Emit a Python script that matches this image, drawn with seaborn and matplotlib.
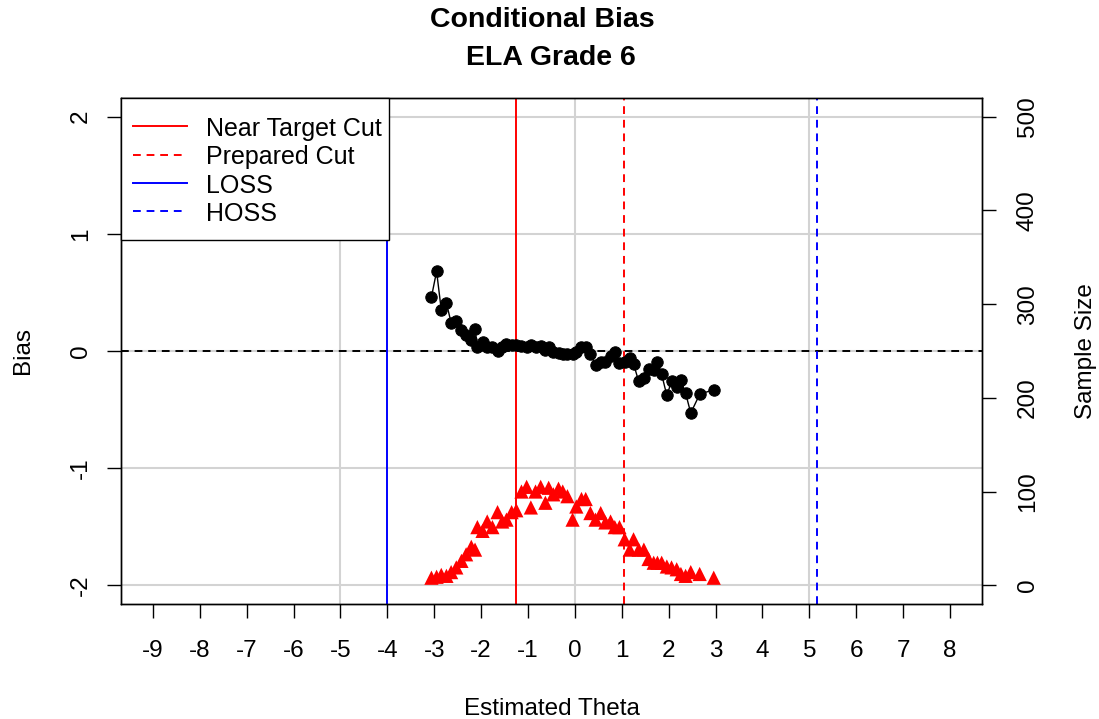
import numpy as np
import pandas as pd
import matplotlib
matplotlib.use("Agg")
import matplotlib.pyplot as plt
import seaborn as sns
from matplotlib.lines import Line2D
from matplotlib.patches import Rectangle

theta = [-3.06, -2.95, -2.85, -2.74, -2.64, -2.53, -2.42, -2.32, -2.21, -2.13,
         -2.08, -1.97, -1.87, -1.76, -1.65, -1.55, -1.46, -1.35, -1.25, -1.14,
         -1.03, -0.94, -0.84, -0.73, -0.63, -0.56, -0.46, -0.35, -0.26, -0.16,
         -0.05, 0.03, 0.14, 0.23, 0.33, 0.44, 0.55, 0.65, 0.76, 0.85,
         0.95, 1.06, 1.17, 1.25, 1.36, 1.47, 1.57, 1.68, 1.76, 1.85,
         1.96, 2.06, 2.17, 2.26, 2.36, 2.47, 2.66, 2.96]
bias = [0.46, 0.68, 0.35, 0.41, 0.24, 0.26, 0.18, 0.14, 0.09, 0.19,
        0.03, 0.08, 0.03, 0.03, 0.00, 0.03, 0.06, 0.05, 0.05, 0.04,
        0.03, 0.05, 0.03, 0.04, 0.01, 0.03, -0.01, -0.02, -0.03, -0.03,
        -0.03, -0.01, 0.03, 0.03, -0.03, -0.12, -0.09, -0.09, -0.04, -0.01,
        -0.10, -0.09, -0.06, -0.11, -0.26, -0.23, -0.15, -0.16, -0.09, -0.20,
        -0.38, -0.26, -0.31, -0.25, -0.36, -0.53, -0.37, -0.33]
sample_size = [8, 9, 11, 10, 14, 19, 26, 33, 41, 38,
               62, 58, 68, 62, 78, 68, 70, 78, 80, 100,
               105, 83, 100, 105, 88, 104, 97, 103, 100, 95,
               70, 84, 92, 92, 77, 70, 77, 67, 68, 62,
               62, 49, 38, 49, 38, 38, 28, 24, 24, 24,
               20, 19, 17, 12, 10, 14, 12, 8]

near_target_cut = -1.247
prepared_cut = 1.055
loss = -4.0
hoss = 5.157

x_ticks = list(range(-9, 9))
bias_ticks = [-2, -1, 0, 1, 2]
n_ticks = [0, 100, 200, 300, 400, 500]
grid_x = [-5, 0, 5]

df = pd.DataFrame({"theta": theta, "bias": bias, "n": sample_size})

plt.rcParams['font.family'] = ['Liberation Sans', 'DejaVu Sans']
FS = 17.5

fig = plt.figure(figsize=(10.99, 7.19), dpi=100)
ax = fig.add_axes([0.1101, 0.160, 0.7834, 0.7037])
ax.set_xlim(-9.68, 8.68)
ax.set_ylim(-2.16, 2.16)

for gx in grid_x:
    ax.axvline(gx, color="lightgray", lw=1.5, zorder=0)
for gy in bias_ticks:
    ax.axhline(gy, color="lightgray", lw=1.5, zorder=0)

ax.axhline(0, color="black", lw=1.4, ls=(0, (4, 3)), zorder=1)
ax.axvline(near_target_cut, color="red", lw=1.4, zorder=1)
ax.axvline(prepared_cut, color="red", lw=1.4, ls=(0, (4, 3)), zorder=1)
ax.axvline(loss, color="blue", lw=1.4, zorder=1)
ax.axvline(hoss, color="blue", lw=1.4, ls=(0, (4, 3)), zorder=1)

sns.lineplot(data=df, x="theta", y="bias", color="black", lw=1.0,
             marker="o", markersize=8.2, markeredgecolor="black",
             sort=False, ax=ax, zorder=3)

ax2 = ax.twinx()
ax2.set_ylim((-2.16 + 2) * 125, (2.16 + 2) * 125)
sns.scatterplot(data=df, x="theta", y="n", color="red", marker="^", s=105,
                edgecolor="none", ax=ax2, zorder=3)

ax.set_xticks(x_ticks)
ax.set_xticklabels([str(v) for v in x_ticks])
ax.set_yticks(bias_ticks)
ax.set_yticklabels([str(v) for v in bias_ticks], rotation=90, va="center")
ax2.set_yticks(n_ticks)
ax2.set_yticklabels([str(v) for v in n_ticks], rotation=90, va="center")

ax.tick_params(axis="x", direction="out", length=10, width=1.0,
               labelsize=FS, pad=16, color="black")
ax.tick_params(axis="y", direction="out", length=10, width=1.0,
               labelsize=FS, pad=11, color="black")
ax2.tick_params(axis="y", direction="out", length=10, width=1.0,
                labelsize=FS, pad=15, color="black")

ax.set_xlabel("Estimated Theta", fontsize=FS, labelpad=26)
ax.set_ylabel("Bias", fontsize=FS, labelpad=26)
ax2.set_ylabel("Sample Size", fontsize=FS, labelpad=26)

for a in (ax, ax2):
    for sp in a.spines.values():
        sp.set_color("black")
        sp.set_linewidth(1.0)

fig.text(542.5 / 1099, 1 - 20 / 719, "Conditional Bias", fontsize=20.5,
         fontweight="bold", ha="center", va="center")
fig.text(551 / 1099, 1 - 58 / 719, "ELA Grade 6", fontsize=20.5,
         fontweight="bold", ha="center", va="center")

# legend frame (R-style, square, opaque)
frame = Rectangle((0, 1 - 142 / 506), 268 / 861, 142 / 506,
                  transform=ax2.transAxes, facecolor="white",
                  edgecolor="black", lw=1.0, zorder=9, clip_on=False)
ax2.add_patch(frame)

handles = [
    Line2D([], [], color="red", lw=1.4),
    Line2D([], [], color="red", lw=1.4, ls=(0, (4, 3))),
    Line2D([], [], color="blue", lw=1.4),
    Line2D([], [], color="blue", lw=1.4, ls=(0, (4, 3))),
]
labels = ["Near Target Cut", "Prepared Cut", "LOSS", "HOSS"]
leg = ax2.legend(handles, labels, loc="upper left",
                 bbox_to_anchor=(0, 1 - 6 / 506), borderaxespad=0,
                 frameon=False, fontsize=18, handlelength=2.15,
                 handletextpad=0.75, handleheight=1.0, labelspacing=0.14,
                 borderpad=0.5)
leg.set_zorder(10)

fig.savefig("out.png", dpi=100)
